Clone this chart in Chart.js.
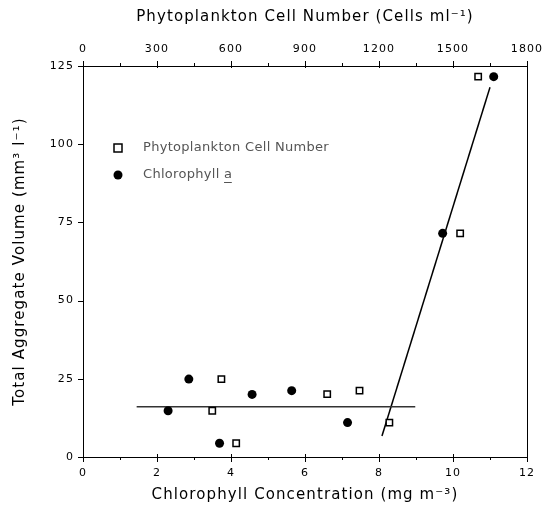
<!DOCTYPE html>
<html><head><meta charset="utf-8">
<script src="https://cdn.jsdelivr.net/npm/chart.js@4/dist/chart.umd.min.js"></script>
<style>html,body{margin:0;padding:0;background:#fff}#wrap{width:543px;height:513px;position:relative}</style>
</head><body><div id="wrap"><canvas id="c" width="543" height="513"></canvas></div>
<script>
// Data
const chlorophyllConc = [2.30, 2.86, 3.69, 4.57, 5.64, 7.15, 9.72, 11.10];
const chlorophyllVolume = [14.8, 24.9, 4.4, 20.0, 21.2, 11.0, 71.5, 121.6];
const cellNumber = [524, 561, 621, 990, 1121, 1242, 1529, 1602];
const cellVolume = [14.8, 24.9, 4.4, 20.1, 21.2, 11.0, 71.5, 121.6];
const flatFitX = [1.45, 8.98];
const flatFitY = [16.1, 16.1];
const steepFitX = [8.08, 11.0];
const steepFitY = [6.7, 118.2];
const bottomTicks = [0, 2, 4, 6, 8, 10, 12];
const bottomMinor = [1, 3, 5, 7, 9, 11];
const topTicks = [0, 300, 600, 900, 1200, 1500, 1800];
const topMinor = [150, 450, 750, 1050, 1350, 1650];
const yTicks = [0, 25, 50, 75, 100, 125];
const seriesNames = ['Phytoplankton Cell Number', 'Chlorophyll a'];

const FONT = 'DejaVu Sans';
const pts = (xs, ys) => xs.map((x, i) => ({x, y: ys[i]}));

const spacingPlugin = {
  id: 'spacing',
  beforeDraw(chart) { chart.ctx.letterSpacing = '1.1px'; }
};

const axisPlugin = {
  id: 'axisExtras',
  afterDraw(chart) {
    const ctx = chart.ctx, a = chart.chartArea;
    const sx = chart.scales.x, sx2 = chart.scales.x2, sy = chart.scales.y;
    ctx.save();
    ctx.strokeStyle = '#000';
    ctx.lineWidth = 1;
    // right frame
    ctx.beginPath(); ctx.moveTo(a.right + 0.5, a.top); ctx.lineTo(a.right + 0.5, a.bottom); ctx.stroke();
    ctx.beginPath();
    bottomTicks.forEach(v => { const p = Math.round(sx.getPixelForValue(v)) + 0.5; ctx.moveTo(p, a.bottom - 3); ctx.lineTo(p, a.bottom + 5); });
    bottomMinor.forEach(v => { const p = Math.round(sx.getPixelForValue(v)) + 0.5; ctx.moveTo(p, a.bottom); ctx.lineTo(p, a.bottom + 3); });
    topTicks.forEach(v => { const p = Math.round(sx2.getPixelForValue(v)) + 0.5; ctx.moveTo(p, a.top + 2); ctx.lineTo(p, a.top - 5); });
    topMinor.forEach(v => { const p = Math.round(sx2.getPixelForValue(v)) + 0.5; ctx.moveTo(p, a.top); ctx.lineTo(p, a.top - 3); });
    yTicks.forEach(v => { const p = Math.round(sy.getPixelForValue(v)) + 0.5; ctx.moveTo(a.left - 5, p); ctx.lineTo(a.left + (v === 125 ? 4 : 0), p); });
    ctx.stroke();
    // legend
    const lx = a.left + 35, ly1 = a.top + 82, ly2 = a.top + 109;
    ctx.lineWidth = 1.5;
    ctx.strokeRect(lx - 4, ly1 - 4, 8, 8);
    ctx.fillStyle = '#000';
    ctx.beginPath(); ctx.arc(lx, ly2, 4.5, 0, Math.PI * 2); ctx.fill();
    ctx.font = '13px "' + FONT + '"';
    ctx.letterSpacing = '0.3px';
    ctx.fillStyle = '#555';
    ctx.textBaseline = 'middle';
    ctx.textAlign = 'left';
    const tx = lx + 25;
    ctx.fillText(seriesNames[0], tx, ly1);
    ctx.fillText(seriesNames[1], tx, ly2);
    const full = ctx.measureText(seriesNames[1]).width;
    const aw = ctx.measureText('a').width;
    ctx.strokeStyle = '#555'; ctx.lineWidth = 1;
    ctx.beginPath(); ctx.moveTo(tx + full - aw, ly2 + 7.5); ctx.lineTo(tx + full - 0.5, ly2 + 7.5); ctx.stroke();
    ctx.restore();
  }
};

const tickFont = {family: FONT, size: 11};
const titleFont = {family: FONT, size: 15};
const plain = v => String(v);
const noPad = s => { s.paddingLeft = 0; s.paddingRight = 0; s.paddingTop = 0; s.paddingBottom = 0; };

new Chart(document.getElementById('c'), {
  type: 'scatter',
  data: {
    datasets: [
      {label: seriesNames[0], xAxisID: 'x2', data: pts(cellNumber, cellVolume), pointStyle: 'rect', pointRadius: 4.5, borderColor: '#000', borderWidth: 1.5, backgroundColor: '#fff'},
      {label: seriesNames[1], xAxisID: 'x', data: pts(chlorophyllConc, chlorophyllVolume), pointStyle: 'circle', pointRadius: 4.5, borderColor: '#000', borderWidth: 0, backgroundColor: '#000'},
      {label: 'fit1', xAxisID: 'x', data: pts(flatFitX, flatFitY), showLine: true, pointRadius: 0, borderColor: '#333', borderWidth: 1.5},
      {label: 'fit2', xAxisID: 'x', data: pts(steepFitX, steepFitY), showLine: true, pointRadius: 0, borderColor: '#000', borderWidth: 1.5}
    ]
  },
  options: {
    responsive: false,
    animation: false,
    layout: {padding: {left: 0, right: 16, top: 0, bottom: 0}},
    plugins: {legend: {display: false}, tooltip: {enabled: false}},
    scales: {
      x: {
        type: 'linear', position: 'bottom', min: 0, max: 12,
        afterBuildTicks: s => { s.ticks = bottomTicks.map(v => ({value: v})); },
        ticks: {font: tickFont, color: '#000', padding: 10, maxRotation: 0, autoSkip: false, callback: plain},
        grid: {display: true, drawOnChartArea: false, drawTicks: false},
        border: {display: true, color: '#000', width: 1},
        title: {display: true, text: 'Chlorophyll Concentration (mg m\u207B\u00B3)', font: titleFont, color: '#000', padding: {top: 0, bottom: 9}},
        afterFit: s => { s.height = 56; noPad(s); }
      },
      x2: {
        type: 'linear', position: 'top', min: 0, max: 1800,
        afterBuildTicks: s => { s.ticks = topTicks.map(v => ({value: v})); },
        ticks: {font: tickFont, color: '#000', padding: 10, maxRotation: 0, autoSkip: false, callback: plain},
        grid: {display: true, drawOnChartArea: false, drawTicks: false},
        border: {display: true, color: '#000', width: 1},
        title: {display: true, text: 'Phytoplankton Cell Number (Cells ml\u207B\u00B9)', font: titleFont, color: '#000', padding: {top: 8, bottom: 0}},
        afterFit: s => { s.height = 66; noPad(s); }
      },
      y: {
        type: 'linear', position: 'left', min: 0, max: 125,
        afterBuildTicks: s => { s.ticks = yTicks.map(v => ({value: v})); },
        ticks: {font: tickFont, color: '#000', padding: 9, callback: plain},
        grid: {display: true, drawOnChartArea: false, drawTicks: false},
        border: {display: true, color: '#000', width: 1},
        title: {display: true, text: 'Total Aggregate Volume (mm\u00B3 l\u207B\u00B9)', font: titleFont, color: '#000', padding: {top: 11, bottom: 0}},
        afterFit: s => { s.width = 83; noPad(s); }
      }
    }
  },
  plugins: [spacingPlugin, axisPlugin]
});
</script>
</body></html>
